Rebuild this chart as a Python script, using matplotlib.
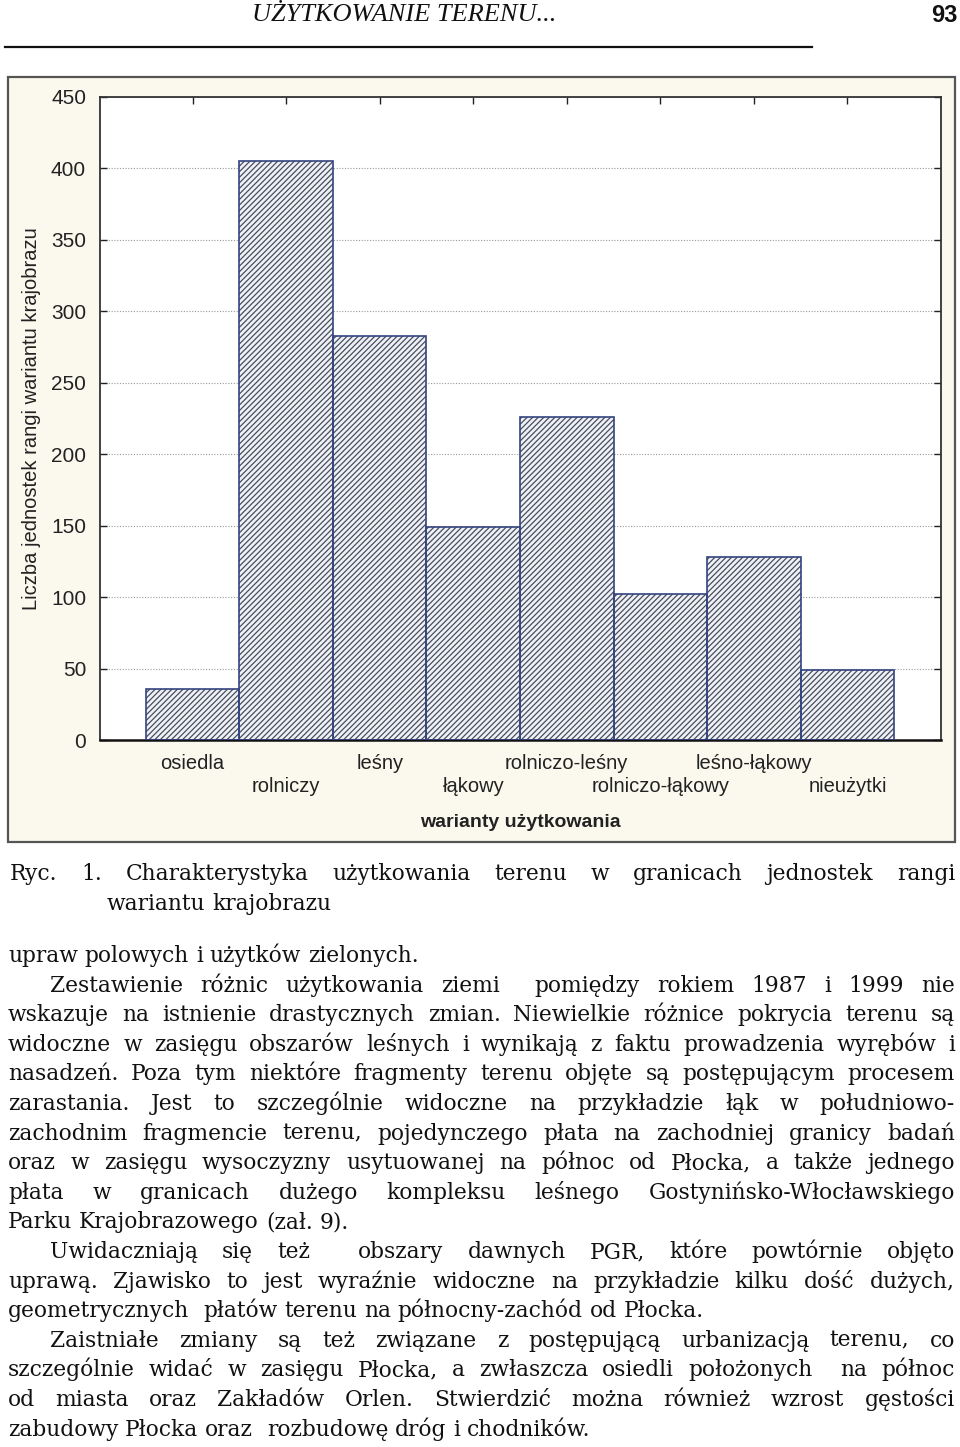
import numpy as np
import matplotlib.pyplot as plt
from matplotlib.patches import Rectangle
from matplotlib.lines import Line2D

plt.rcParams['hatch.linewidth'] = 0.9

W, H = 960, 1447

# chart data
categories = ["osiedla", "rolniczy", "leśny", "łąkowy", "rolniczo-leśny",
              "rolniczo-łąkowy", "leśno-łąkowy", "nieużytki"]
counts = [36, 405, 283, 149, 226, 102, 128, 49]
yticks = [0, 50, 100, 150, 200, 250, 300, 350, 400, 450]

header = "UŻYTKOWANIE TERENU..."
page_no = "93"
caption = ["Ryc. 1. Charakterystyka użytkowania terenu w granicach jednostek rangi",
           "wariantu krajobrazu"]
# (text, indented, justified)
body = [
    ("upraw polowych i użytków zielonych.", False, False),
    ("Zestawienie różnic użytkowania ziemi  pomiędzy rokiem 1987 i 1999 nie", True, True),
    ("wskazuje na istnienie drastycznych zmian. Niewielkie różnice pokrycia terenu są", False, True),
    ("widoczne w zasięgu obszarów leśnych i wynikają z faktu prowadzenia wyrębów i", False, True),
    ("nasadzeń. Poza tym niektóre fragmenty terenu objęte są postępującym procesem", False, True),
    ("zarastania. Jest to szczególnie widoczne na przykładzie łąk w południowo-", False, True),
    ("zachodnim fragmencie terenu, pojedynczego płata na zachodniej granicy badań", False, True),
    ("oraz w zasięgu wysoczyzny usytuowanej na północ od Płocka, a także jednego", False, True),
    ("płata w granicach dużego kompleksu leśnego Gostynińsko-Włocławskiego", False, True),
    ("Parku Krajobrazowego (zał. 9).", False, False),
    ("Uwidaczniają się też  obszary dawnych PGR, które powtórnie objęto", True, True),
    ("uprawą. Zjawisko to jest wyraźnie widoczne na przykładzie kilku dość dużych,", False, True),
    ("geometrycznych  płatów terenu na północny-zachód od Płocka.", False, False),
    ("Zaistniałe zmiany są też związane z postępującą urbanizacją terenu, co", True, True),
    ("szczególnie widać w zasięgu Płocka, a zwłaszcza osiedli położonych  na północ", False, True),
    ("od miasta oraz Zakładów Orlen. Stwierdzić można również wzrost gęstości", False, True),
    ("zabudowy Płocka oraz  rozbudowę dróg i chodników.", False, False),
]

fig = plt.figure(figsize=(W / 100, H / 100), dpi=100)
fig.patch.set_facecolor('white')


def fx(x):
    return x / W


def fy(y):
    return 1 - y / H


# header
fig.text(fx(404), fy(15), header, family='Liberation Serif', style='italic',
         fontsize=19, ha='center', va='center', color='#111')
fig.text(fx(957), fy(15), page_no, family='Liberation Sans', weight='bold',
         fontsize=17, ha='right', va='center', color='#111')
fig.add_artist(Line2D([fx(5), fx(812)], [fy(47), fy(47)], color='#111', lw=1.6))

# chart panel
fig.add_artist(Rectangle((fx(8), fy(842)), fx(955) - fx(8), fy(77) - fy(842),
                         facecolor='#fbf9ee', edgecolor='#555555', lw=1.6,
                         zorder=0))

ax = fig.add_axes([fx(100), fy(740), fx(941) - fx(100), fy(97) - fy(740)])
ax.set_facecolor('white')
x = np.arange(len(categories))
ax.bar(x, counts, width=1.0, color='#eef1f7', edgecolor='#4a4e5a', lw=0,
       hatch='//////', zorder=2)
ax.bar(x, counts, width=1.0, fill=False, edgecolor='#34447f', lw=1.2, zorder=3)
ax.set_xlim(-0.99, 8.0)
ax.set_ylim(0, 450)
ax.set_yticks(yticks)
ax.yaxis.grid(True, ls=(0, (1, 1.5)), color='#9a9a9a', lw=0.8, zorder=1)
ax.set_axisbelow(True)

# labels alternate between two rows
ax.set_xticks(x[::2], categories[::2])
ax.set_xticks(x[1::2], categories[1::2], minor=True)
for lab in ax.get_xticklabels(minor=False) + ax.get_xticklabels(minor=True):
    lab.set_family('Liberation Sans')
    lab.set_fontsize(14.5)
    lab.set_color('#222')
ax.tick_params(axis='both', which='both', direction='in', length=5, width=1,
               color='#222', top=True, right=True)
ax.tick_params(axis='x', which='major', pad=10)
ax.tick_params(axis='x', which='minor', pad=27)
ax.tick_params(axis='y', pad=10, labelsize=15, labelcolor='#222')
for lab in ax.get_yticklabels():
    lab.set_family('Liberation Sans')
for s in ax.spines.values():
    s.set_color('#333333')
    s.set_linewidth(1.3)
ax.spines['bottom'].set_color('#111')
ax.spines['bottom'].set_linewidth(1.8)

ax.set_xlabel("warianty użytkowania", family='Liberation Sans', weight='bold',
              fontsize=14, color='#222')
ax.xaxis.set_label_coords(0.5, -0.115)
ax.set_ylabel("Liczba jednostek rangi wariantu krajobrazu", family='Liberation Sans',
              fontsize=14.5, color='#222', labelpad=7)

# text block
renderer = fig.canvas.get_renderer()
TFONT = dict(family='DejaVu Serif', fontsize=15.7, color='#111')
LEFT, RIGHT, INDENT = 8, 955, 50


def width(s):
    t = fig.text(0, 0, s, **TFONT)
    w = t.get_window_extent(renderer).width
    t.remove()
    return w


space_w = width('a a') - width('aa')


def put_line(s, x0, yb, justify):
    words = s.split(' ')
    widths = [width(w) if w else 0 for w in words]
    if justify and len(words) > 1:
        gap = (RIGHT - x0 - sum(widths)) / (len(words) - 1)
    else:
        gap = space_w
    xc = x0
    for w, wd in zip(words, widths):
        if w:
            fig.text(fx(xc), fy(yb), w, va='baseline', ha='left', **TFONT)
        xc += wd + gap


put_line(caption[0], 10, 880, True)
put_line(caption[1], 107, 910, False)

for i, (s, ind, just) in enumerate(body):
    put_line(s, INDENT if ind else LEFT, 962 + i * 29.6, just)

fig.savefig('out.png', dpi=100)
